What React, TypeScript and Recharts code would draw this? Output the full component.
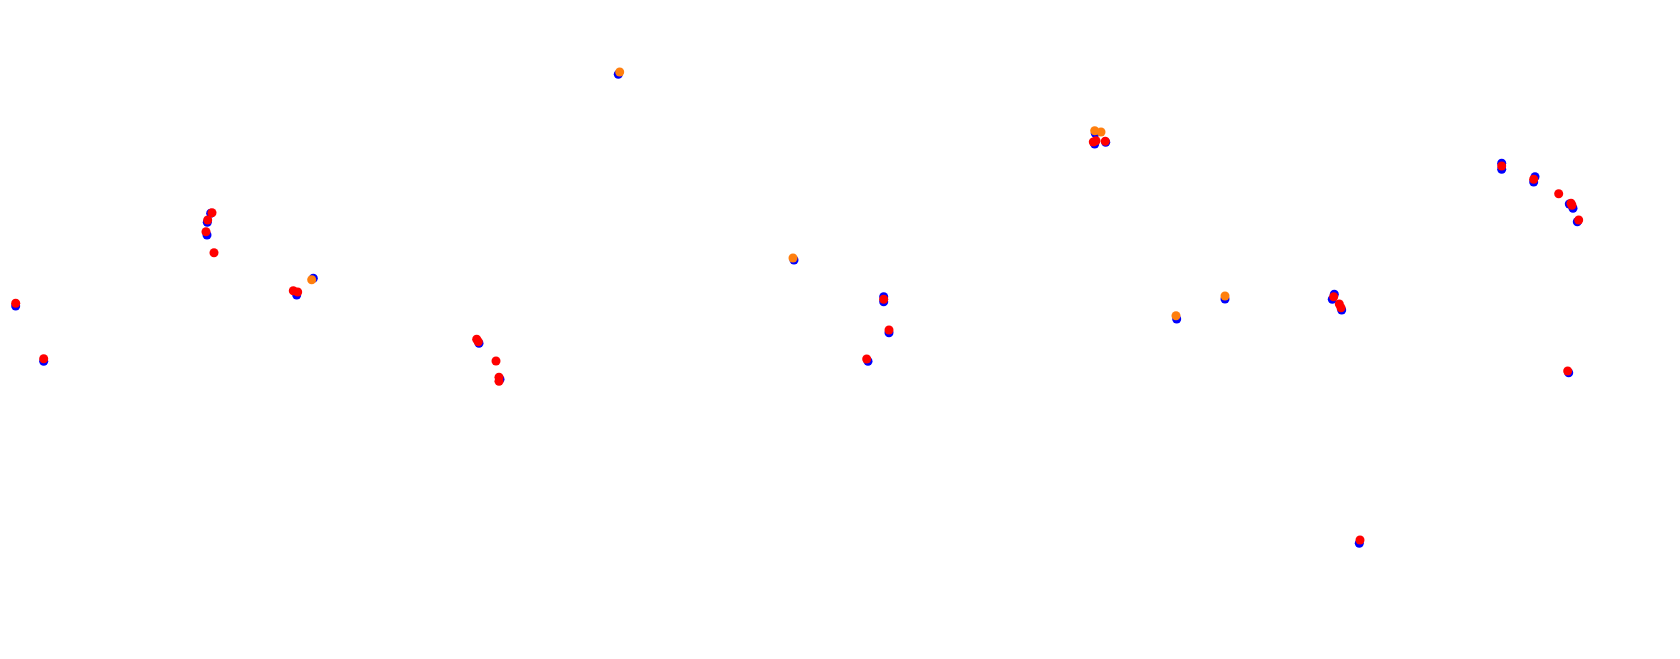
import { Scatter, ScatterChart, XAxis, YAxis, ZAxis } from "recharts";

// positions (x right, y down)
const bluePoints: Array<[number, number]> = [
  [15.7, 306], [43.7, 361.3], [210.7, 213.3], [207.3, 222.3], [207, 235],
  [296.7, 295], [313.3, 278.3], [618.3, 74.3], [794, 260], [479, 343.3],
  [500, 379.3], [1095.3, 133.3], [1094.7, 144], [1105.7, 142.3], [883.7, 296.7],
  [883.7, 301.7], [889, 332.7], [868, 361.3], [1176.7, 319], [1225, 299],
  [1501.7, 163.3], [1501.7, 169.3], [1535, 176.7], [1533.7, 182], [1569.3, 204],
  [1573, 208.3], [1577.3, 221.7], [1334.3, 294.3], [1332.3, 299.3], [1341.7, 310],
  [1568.7, 372.7], [1359.3, 543.3],
];

const orangePoints: Array<[number, number]> = [
  [311.7, 279.7], [619.7, 72], [793, 258], [1094.7, 130.7], [1101, 132],
  [1176, 315.7], [1225, 296],
];

const redPoints: Array<[number, number]> = [
  [15.7, 303.3], [43.7, 358.7], [212, 212.7], [207.7, 220], [206, 231.7],
  [214, 252.7], [293.3, 290.7], [297.7, 292], [476.7, 339.3], [478.3, 341.7],
  [496, 361], [499, 377.3], [499, 381.3], [1096, 140.7], [1105.3, 141.3],
  [1093.3, 142], [883.7, 299.3], [889, 330], [866.7, 359], [1501.7, 166],
  [1533.7, 179.3], [1558.7, 193.7], [1571, 203.3], [1572, 205.3], [1578.7, 220],
  [1333.7, 296.7], [1339.3, 304], [1341, 307.7], [1567.7, 371], [1360, 540],
];

const toRows = (pts: Array<[number, number]>) => pts.map(([x, y]) => ({ x, y }));

export default function App() {
  return (
    <div style={{ position: "fixed", left: 0, top: 0, width: 1680, height: 659, background: "#fff" }}>
      <ScatterChart width={1680} height={659} margin={{ top: 0, right: 0, bottom: 0, left: 0 }}>
        <XAxis type="number" dataKey="x" domain={[0, 1680]} hide />
        <YAxis type="number" dataKey="y" domain={[0, 659]} reversed hide />
        <ZAxis range={[64, 64]} />
        <Scatter data={toRows(bluePoints)} fill="#0000ff" isAnimationActive={false} />
        <Scatter data={toRows(orangePoints)} fill="#ff7f0e" isAnimationActive={false} />
        <Scatter data={toRows(redPoints)} fill="#ff0000" isAnimationActive={false} />
      </ScatterChart>
    </div>
  );
}
